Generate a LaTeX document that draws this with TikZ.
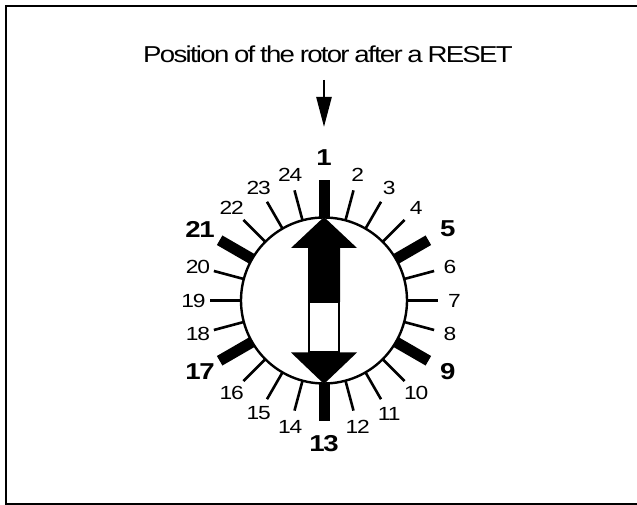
\documentclass[tikz,border=0pt]{standalone}
\usepackage{fontspec}
\setmainfont{Liberation Sans}[FakeStretch=1.2,LetterSpace=-6,WordSpace=0.8]
\newfontfamily\titlefont{Liberation Sans}[FakeStretch=1.2,LetterSpace=-7.5,WordSpace=0.8]
\usetikzlibrary{arrows.meta}
\tikzset{
	thinlabel/.style={font=\fontsize{19}{19}\selectfont, inner sep=0pt},
	boldlabel/.style={font=\fontsize{23}{23}\selectfont\bfseries, inner sep=0pt}
}
\newcommand{\thinticks}[1]{
	\foreach \n in {#1} {
		\draw[line width=2.6] (rotor.{90-(\n-1)*15}) -- ({90-(\n-1)*15}:114);
		\node[thinlabel] (lab\n) at ({90-(\n-1)*15}:130.5) {\n};
	}
}
\newcommand{\boldticks}[1]{
	\foreach \n in {#1} {
		\draw[line width=11] (rotor.{90-(\n-1)*15}) -- ({90-(\n-1)*15}:120.5);
		\node[boldlabel] (lab\n) at ({90-(\n-1)*15}:143) {\n};
	}
}
\begin{document}
\begin{tikzpicture}[x=1pt,y=1pt]
	\useasboundingbox (-324,-204.5) rectangle (313,300.5);
	\draw[line width=2.2] (313,294.5) -- (-317.7,294.5) -- (-317.7,-203.5) -- (313,-203.5);
	\node[font=\fontsize{23}{23}\selectfont\titlefont, inner sep=0pt] (title) at (4,246.5) {Position of the rotor after a RESET};
	\coordinate (resettop) at (0,220.5);
	\coordinate (resettip) at (0,173.5);
	\draw[line width=2.6, -{Triangle[length=30,width=15]}] (resettop) -- (resettip);
	\node[circle, draw, line width=2.4, minimum size=166, inner sep=0pt, outer sep=0pt] (rotor) at (0,0) {};
	\thinticks{2,3,4,6,7,8,10,11,12,14,15,16,18,19,20,22,23,24}
	\boldticks{1,5,9,13,17,21}
	% double arrow of the rotor
	\draw[line width=2.4, fill=white] (-15,-1.5) rectangle (15,-52);
	\path[fill=black] (0,83.5) -- (33,52.5) -- (16,52.5) -- (16,-1.5) -- (-16,-1.5) -- (-16,52.5) -- (-33,52.5) -- cycle;
	\path[fill=black] (0,-83.5) -- (33,-52) -- (-33,-52) -- cycle;
\end{tikzpicture}
\end{document}
